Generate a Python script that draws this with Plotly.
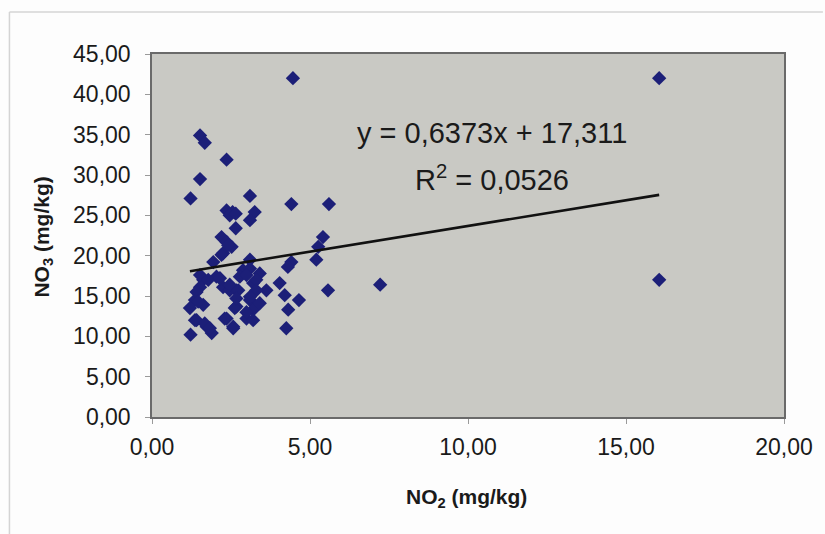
import plotly.graph_objects as go

# NO2 (x) and NO3 (y) values, mg/kg
no2 = [1.52, 1.67, 2.36, 1.52, 1.22, 3.10, 4.41, 5.60, 2.36, 2.55,
       2.46, 2.65, 3.25, 3.10, 2.65, 2.20, 2.36, 2.52, 5.41, 5.26,
       5.20, 2.25, 1.94, 3.10, 4.41, 4.30, 2.88, 2.78, 3.41, 2.04,
       1.62, 1.52, 2.25, 3.20, 4.04, 2.46, 2.67, 3.62, 4.20, 5.57,
       1.36, 1.62, 3.10, 4.65, 2.67, 3.20, 4.31, 1.36, 2.36, 2.99,
       1.73, 1.89, 2.57, 4.25, 1.22, 4.46, 16.05, 7.22, 16.05,
       2.41, 2.20, 1.52, 1.78, 2.15, 2.46, 2.73, 3.10, 2.99, 3.30,
       3.30, 3.10, 3.41, 2.99, 3.20, 1.41, 1.46, 1.20, 1.41, 1.67,
       1.83, 2.30, 2.62, 2.57, 2.67]
no3 = [34.9, 34.0, 31.9, 29.5, 27.1, 27.4, 26.4, 26.4, 25.6, 25.4,
       25.0, 25.2, 25.4, 24.4, 23.4, 22.3, 21.7, 21.1, 22.3, 21.1,
       19.5, 20.3, 19.2, 19.5, 19.2, 18.6, 18.2, 17.4, 17.8, 17.4,
       17.0, 16.1, 16.1, 16.6, 16.6, 15.7, 15.7, 15.7, 15.1, 15.7,
       14.5, 13.9, 14.5, 14.5, 13.7, 13.3, 13.3, 12.0, 12.2, 12.2,
       11.2, 10.4, 11.0, 11.0, 10.2, 42.0, 42.0, 16.4, 17.0,
       21.3, 20.1, 17.6, 17.0, 17.2, 16.4, 15.7, 18.4, 17.6, 17.0,
       15.7, 14.9, 14.1, 13.0, 12.0, 15.5, 14.3, 13.5, 12.0, 11.6,
       11.0, 12.2, 13.5, 11.2, 14.7]

# Trendline coefficients shown on the chart
slope = 0.6373
intercept = 17.311
r2 = 0.0526

x_ticks = [0, 5, 10, 15, 20]
y_ticks = [0, 5, 10, 15, 20, 25, 30, 35, 40, 45]

def fmt(v, d):
    return f"{v:.{d}f}".replace(".", ",")

x_line = [min(no2), max(no2)]
y_line = [slope * v + intercept for v in x_line]

fig = go.Figure()
fig.add_trace(go.Scatter(
    x=no2, y=no3, mode="markers",
    marker=dict(symbol="diamond", size=11, color="#1c1f78",
                line=dict(width=0)),
    showlegend=False, cliponaxis=False))
fig.add_trace(go.Scatter(
    x=x_line, y=y_line, mode="lines",
    line=dict(color="#111111", width=2.6), showlegend=False))

font_main = "Liberation Sans, Arial, sans-serif"

fig.add_annotation(x=10.76, y=35.2, xref="x", yref="y",
                   text=f"y = {fmt(slope, 4)}x + {fmt(intercept, 3)}",
                   showarrow=False, font=dict(size=29, color="#1a1a1a", family=font_main))
fig.add_annotation(x=10.76, y=29.6, xref="x", yref="y",
                   text=f"R<sup>2</sup> = {fmt(r2, 4)}",
                   showarrow=False, font=dict(size=29, color="#1a1a1a", family=font_main))

fig.add_annotation(x=0.498, y=-0.223, xref="paper", yref="paper",
                   text="<b>NO<sub>2</sub> (mg/kg)</b>", showarrow=False,
                   xanchor="center", yanchor="middle",
                   font=dict(size=21, color="#1a1a1a", family=font_main))
fig.add_annotation(x=-0.172, y=0.495, xref="paper", yref="paper",
                   text="<b>NO<sub>3</sub> (mg/kg)</b>", showarrow=False,
                   textangle=-90, xanchor="center", yanchor="middle",
                   font=dict(size=21, color="#1a1a1a", family=font_main))

# outer chart border (top and left lines visible)
fig.add_shape(type="line", xref="paper", yref="paper",
              x0=(9 - 152) / 634, x1=(825 - 152) / 634,
              y0=(417 - 12) / 363, y1=(417 - 12) / 363,
              line=dict(color="#d4d4d4", width=1.5))
fig.add_shape(type="line", xref="paper", yref="paper",
              x0=(9 - 152) / 634, x1=(9 - 152) / 634,
              y0=(417 - 12) / 363, y1=(417 - 534) / 363,
              line=dict(color="#d4d4d4", width=1.5))

fig.update_layout(
    width=825, height=534,
    margin=dict(l=152, r=39, t=54, b=117),
    paper_bgcolor="#fdfdfd", plot_bgcolor="#c9c9c4",
    separators=",.",
    font=dict(family=font_main, size=22, color="#1a1a1a"),
    xaxis=dict(range=[0, 20], tickvals=x_ticks,
               ticktext=[fmt(v, 2) for v in x_ticks],
               showgrid=False, zeroline=False,
               showline=True, linecolor="#6a6a6a", linewidth=1.5, mirror=True,
               ticks="outside", ticklen=5, tickcolor="#9a9a9a",
               ticklabelstandoff=4,
               tickfont=dict(size=23, color="#1a1a1a")),
    yaxis=dict(range=[0, 45], tickvals=y_ticks,
               ticktext=[fmt(v, 2) for v in y_ticks],
               showgrid=False, zeroline=False,
               showline=True, linecolor="#6a6a6a", linewidth=1.5, mirror=True,
               ticks="outside", ticklen=5, tickcolor="#9a9a9a",
               ticklabelstandoff=10,
               tickfont=dict(size=23, color="#1a1a1a")),
)

fig.write_html("out.html")
